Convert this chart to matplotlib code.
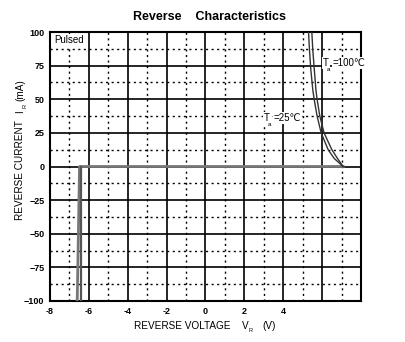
import numpy as np
import matplotlib
matplotlib.use("Agg")
import matplotlib.pyplot as plt

plt.rcParams['font.family'] = ['Liberation Sans', 'DejaVu Sans']

# reverse branch (current in mA, voltage in V)
i_rev = [100, 86.6, 71.7, 57, 50, 37.6, 25, 12.5, 6, 0]
v_rev_25 = [5.30, 5.35, 5.42, 5.52, 5.59, 5.74, 5.95, 6.31, 6.62, 7.08]
v_rev_100 = [5.47, 5.52, 5.60, 5.68, 5.74, 5.88, 6.10, 6.50, 6.79, 7.08]

# forward branch (negative voltage side)
v_fwd_a = [-6.60, -6.48, 7.08]
i_fwd_a = [-100, 0, 0]
v_fwd_b = [-6.39, -6.39]
i_fwd_b = [-100, 0]

x_ticks = [-8, -6, -4, -2, 0, 2, 4, 6, 8]
x_ticklabels = ['-8', '-6', '-4', '-2', '0', '2', '4', '', '']
y_ticks = [-100, -75, -50, -25, 0, 25, 50, 75, 100]

W, H = 406, 342
fig = plt.figure(figsize=(W/100, H/100), dpi=100)
ax = fig.add_axes([50/W, 1-301/H, 311/W, 269/H])

ax.set_xlim(-8, 8)
ax.set_ylim(-100, 100)

# grid
for x in np.arange(-7, 8, 2):
    ax.axvline(x, color='black', lw=1.0, ls=(0, (1.5, 2.5)), zorder=1)
for y in np.arange(-87.5, 100, 25):
    ax.axhline(y, color='black', lw=1.0, ls=(0, (1.5, 2.5)), zorder=1)
for x in x_ticks[1:-1]:
    ax.axvline(x, color='black', lw=1.2, zorder=1)
for y in y_ticks[1:-1]:
    ax.axhline(y, color='black', lw=1.2, zorder=1)

# curves
ax.plot(v_fwd_a, i_fwd_a, color='#777777', lw=2.0, zorder=3)
ax.plot(v_fwd_b, i_fwd_b, color='#555555', lw=1.6, zorder=3)
for v in (v_rev_25, v_rev_100):
    ax.plot(v, i_rev, color='#333333', lw=1.0, zorder=4)

ax.set_xticks(x_ticks)
ax.set_xticklabels(x_ticklabels)
ax.set_yticks(y_ticks)
ax.tick_params(length=0, labelsize=6.5, pad=4)
for lab in ax.get_xticklabels() + ax.get_yticklabels():
    lab.set_fontweight('bold')
for s in ax.spines.values():
    s.set_linewidth(1.5)

ax.text(-7.8, 94, 'Pulsed', fontsize=7, ha='left', va='center', zorder=6,
        bbox=dict(fc='white', ec='none', pad=1.0))


def temp_label(x, y, value):
    # T with a small subscript a, then the value
    ax.text(x, y, 'T', fontsize=7, ha='left', va='center', zorder=6,
            bbox=dict(fc='white', ec='none', pad=0.5))
    ax.text(x + 0.2, y - 5, 'a', fontsize=4.5, ha='left', va='center',
            zorder=7)
    ax.text(x + 0.5, y, '=' + value + '℃', fontsize=7, ha='left',
            va='center', zorder=6,
            bbox=dict(fc='white', ec='none', pad=0.5))


temp_label(6.05, 77, '100')
temp_label(3.0, 36, '25')

fig.text(210/W, 1-17/H, 'Reverse    Characteristics', fontsize=9,
         fontweight='bold', ha='center', va='center')

# x label with subscript R
fig.text(134/W, 1-326/H, 'REVERSE VOLTAGE', fontsize=7.2,
         ha='left', va='center')
fig.text(242/W, 1-326/H, 'V', fontsize=7.2, ha='left', va='center')
fig.text(249/W, 1-330/H, 'R', fontsize=4, ha='left', va='center')
fig.text(262/W, 1-326/H, '(V)', fontsize=7.2, ha='left', va='center')

# y label with subscript R
fig.text(20/W, 1-220/H, 'REVERSE CURRENT', fontsize=7.2,
         ha='center', va='bottom', rotation=90)
fig.text(20/W, 1-113/H, 'I', fontsize=7.2, ha='center', va='bottom',
         rotation=90)
fig.text(25/W, 1-108/H, 'R', fontsize=4, ha='center', va='bottom',
         rotation=90)
fig.text(20/W, 1-101/H, '(mA)', fontsize=7.2, ha='center', va='bottom',
         rotation=90)

fig.savefig('out.png', dpi=100)
